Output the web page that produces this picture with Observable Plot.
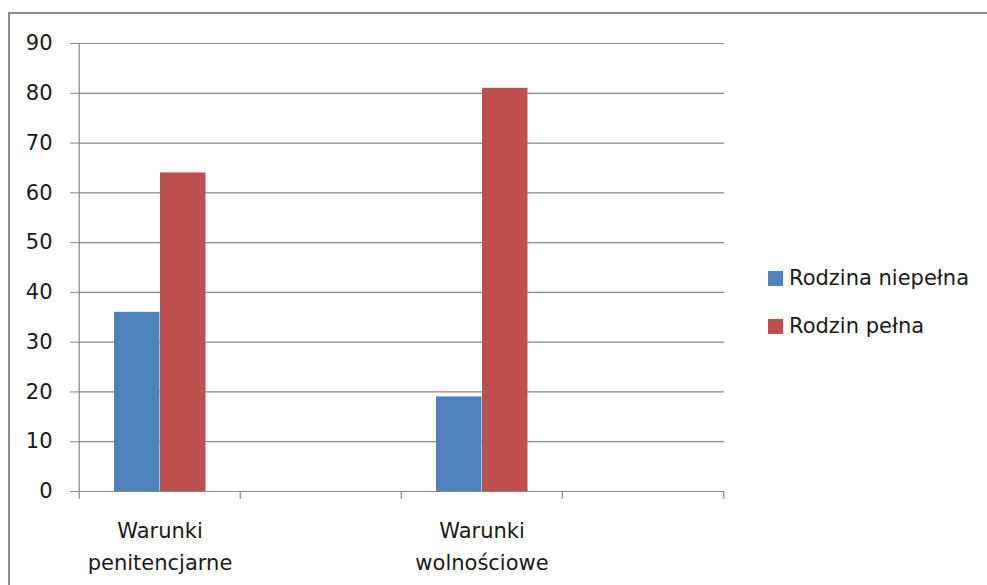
<!DOCTYPE html>
<html>
<head>
<meta charset="utf-8">
<script src="https://cdn.jsdelivr.net/npm/d3@7"></script>
<script src="https://cdn.jsdelivr.net/npm/@observablehq/plot@0.6"></script>
<style>
  html, body { margin: 0; padding: 0; background: #fff; }
  #wrap { position: relative; width: 987px; height: 585px; overflow: hidden; font-family: "DejaVu Sans", sans-serif; }
  #wrap svg { position: absolute; left: 0; top: 0; }
  #frameTop { position: absolute; left: 8px; top: 12px; width: 979px; height: 2px; background: #8c8c8c; }
  #frameLeft { position: absolute; left: 8px; top: 12px; width: 2px; height: 573px; background: #8c8c8c; }
  .lg { position: absolute; left: 768px; font-size: 21px; line-height: 24px; color: #1a1a1a; white-space: nowrap; }
  .sw { display: inline-block; width: 15px; height: 15px; margin-right: 6px; vertical-align: -1px; }
</style>
</head>
<body>
<div id="wrap">
  <div id="frameTop"></div>
  <div id="frameLeft"></div>
</div>
<script>
const categories = ["Warunki penitencjarne", "", "Warunki wolnościowe", " "];
const seriesNames = ["Rodzina niepełna", "Rodzin pełna"];
const niepelna = [36, null, 19, null];
const pelna = [64, null, 81, null];
const yTicks = [0, 10, 20, 30, 40, 50, 60, 70, 80, 90];
const colors = ["#4f81bd", "#c0504d"];

const rows = [];
categories.forEach((c, i) => {
  if (niepelna[i] != null) rows.push({cat: c, series: seriesNames[0], value: niepelna[i]});
  if (pelna[i] != null) rows.push({cat: c, series: seriesNames[1], value: pelna[i]});
});

const W = 987, H = 585, mL = 78, mR = 263, mT = 43, mB = 94;
const bw = (W - mL - mR) / categories.length;
const barW = 46, off = 35;
const grid = "#878787";

const chart = Plot.plot({
  width: W, height: H,
  marginLeft: mL, marginRight: mR, marginTop: mT, marginBottom: mB,
  style: {fontFamily: "DejaVu Sans, sans-serif", fontSize: "21px", color: "#1a1a1a", background: "transparent"},
  x: {domain: categories, padding: 0, axis: null, label: null},
  y: {domain: [0, 90], axis: null, label: null},
  marks: [
    Plot.ruleY(yTicks, {stroke: grid, strokeWidth: 1.2}),
    Plot.barY(rows.filter(d => d.series === seriesNames[0]), {x: "cat", y: "value", fill: colors[0], insetLeft: off, insetRight: bw - off - barW}),
    Plot.barY(rows.filter(d => d.series === seriesNames[1]), {x: "cat", y: "value", fill: colors[1], insetLeft: off + barW, insetRight: bw - off - 2 * barW}),
    // y axis line + category boundary ticks
    Plot.ruleX(categories, {x: d => d, y1: 0, y2: 0, dx: -bw / 2, insetBottom: -8, stroke: grid, strokeWidth: 1.2}),
    Plot.ruleX([categories[categories.length - 1]], {x: d => d, y1: 0, y2: 0, dx: bw / 2, insetBottom: -8, stroke: grid, strokeWidth: 1.2}),
    Plot.ruleX([categories[0]], {x: d => d, y1: 0, y2: 90, dx: -bw / 2, stroke: grid, strokeWidth: 1.2}),
    Plot.axisY({ticks: yTicks, tickSize: 8, tickPadding: 18, fontSize: 21, stroke: grid, label: null, tickFormat: d => String(d)}),
    Plot.axisX({tickSize: 0, tickPadding: 24, fontSize: 21, lineHeight: 1.52, label: null, tickFormat: d => d.replace(" ", "\n")})
  ]
});
const wrap = document.getElementById("wrap");
wrap.appendChild(chart);

seriesNames.forEach((name, i) => {
  const d = document.createElement("div");
  d.className = "lg";
  d.style.top = (266 + i * 48) + "px";
  const sw = document.createElement("span");
  sw.className = "sw";
  sw.style.background = colors[i];
  d.appendChild(sw);
  d.appendChild(document.createTextNode(name));
  wrap.appendChild(d);
});
</script>
</body>
</html>
